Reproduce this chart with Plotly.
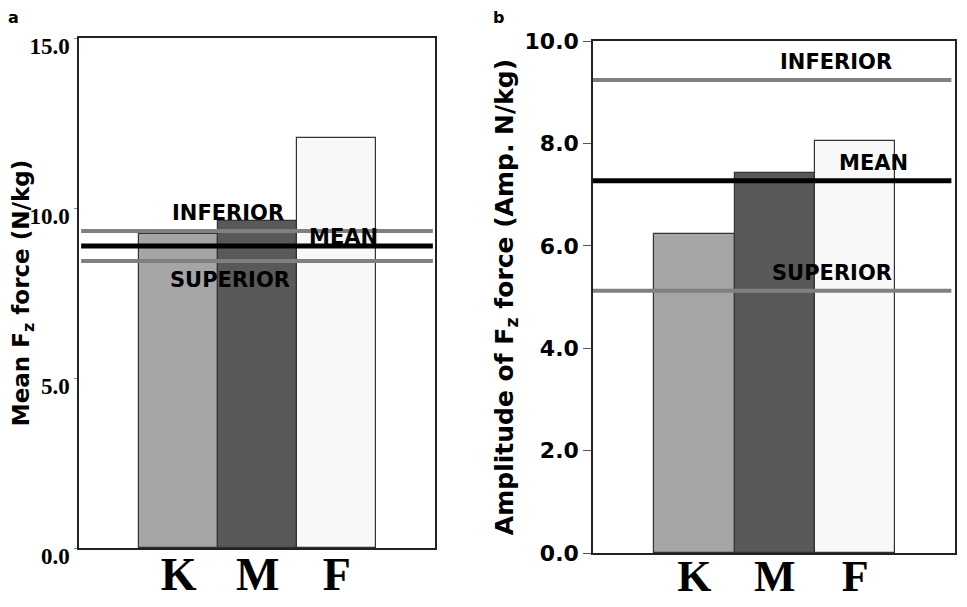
import plotly.graph_objects as go

# Page body has an 8px default margin; the figure is sized so that it fits the 967x607 window exactly.
SCREEN_W, SCREEN_H, OFF = 967, 607, 8
W, H = SCREEN_W - 2 * OFF, SCREEN_H - 2 * OFF

categories = ["K", "M", "F"]
bar_colors = ["#a5a5a5", "#595959", "#f8f8f8"]

# Panel a: mean Fz force (N/kg)
mean_force = [9.24, 9.62, 12.06]
mean_ref = {"INFERIOR": 9.32, "MEAN": 8.88, "SUPERIOR": 8.44}
a_ticks = [0.0, 5.0, 10.0, 15.0]

# Panel b: amplitude of Fz force (Amp. N/kg)
amp_force = [6.23, 7.42, 8.05]
amp_ref = {"INFERIOR": 9.24, "MEAN": 7.27, "SUPERIOR": 5.12}
b_ticks = [0.0, 2.0, 4.0, 6.0, 8.0, 10.0]

SANS = "DejaVu Sans"
SERIF = "Liberation Serif"

def px_x(a, b):
    return [(a - OFF) / W, (b - OFF) / W]

def px_y(top, bottom):
    return [1 - (bottom - OFF) / H, 1 - (top - OFF) / H]

def sx(x):
    return (x - OFF) / W

def sy(y):
    return 1 - (y - OFF) / H

fig = go.Figure()
xpos = [0, 1, 2]

fig.add_trace(go.Bar(x=xpos, y=mean_force, width=1.0, marker=dict(color=bar_colors, line=dict(color="#333333", width=1.2)),
                     xaxis="x", yaxis="y", showlegend=False, hoverinfo="skip"))
fig.add_trace(go.Bar(x=xpos, y=amp_force, width=1.0, marker=dict(color=bar_colors, line=dict(color="#333333", width=1.2)),
                     xaxis="x2", yaxis="y2", showlegend=False, hoverinfo="skip"))

line_style = {"INFERIOR": ("#808080", 4), "MEAN": ("#000000", 5), "SUPERIOR": ("#808080", 4)}

shapes = []
for name, val in mean_ref.items():
    c, w = line_style[name]
    shapes.append(dict(type="line", xref="x domain", yref="y", x0=0.006, x1=0.994, y0=val, y1=val,
                       line=dict(color=c, width=w)))
for name, val in amp_ref.items():
    c, w = line_style[name]
    shapes.append(dict(type="line", xref="x2 domain", yref="y2", x0=0.0, x1=0.99, y0=val, y1=val,
                       line=dict(color=c, width=w)))

lab_font = dict(family=SANS, size=21, color="black")
annotations = [
    dict(text="<b>INFERIOR</b>", xref="x domain", yref="y", x=0.256, y=9.85, showarrow=False, font=lab_font),
    dict(text="<b>MEAN</b>", xref="x domain", yref="y", x=0.846, y=9.15, showarrow=False, font=lab_font),
    dict(text="<b>SUPERIOR</b>", xref="x domain", yref="y", x=0.25, y=7.88, showarrow=False, font=lab_font),
    dict(text="<b>INFERIOR</b>", xref="x2 domain", yref="y2", x=0.831, y=9.59, showarrow=False, font=lab_font),
    dict(text="<b>MEAN</b>", xref="x2 domain", yref="y2", x=0.876, y=7.62, showarrow=False, font=lab_font),
    dict(text="<b>SUPERIOR</b>", xref="x2 domain", yref="y2", x=0.831, y=5.47, showarrow=False, font=lab_font),
    dict(text="<b>a</b>", xref="paper", yref="paper", x=sx(13), y=sy(17), xanchor="center", yanchor="middle",
         showarrow=False, font=dict(family=SANS, size=16, color="black")),
    dict(text="<b>b</b>", xref="paper", yref="paper", x=sx(498), y=sy(17), xanchor="center", yanchor="middle",
         showarrow=False, font=dict(family=SANS, size=16, color="black")),
]

def xaxis_cfg(domain, anchor, standoff, size):
    return dict(
        domain=domain, anchor=anchor,
        range=[-1.26, 3.24], tickvals=xpos, ticktext=[f"<b>{c}</b>" for c in categories],
        tickfont=dict(family=SERIF, size=size, color="black"), ticks="", showgrid=False, zeroline=False,
        showline=True, linecolor="#222222", linewidth=1.5, mirror=True, fixedrange=True, automargin=False,
        ticklabelstandoff=standoff,
    )

fig.update_layout(
    width=W, height=H, margin=dict(l=0, r=0, t=0, b=0, autoexpand=False),
    paper_bgcolor="white", plot_bgcolor="white", bargap=0,
    xaxis=xaxis_cfg(px_x(79, 435), "y", -15, 46),
    yaxis=dict(domain=px_y(38, 548), anchor="x", range=[0, 15], tickvals=a_ticks,
               ticktext=[f"<b>{v:.1f}</b>" for v in a_ticks], automargin=False,
               tickfont=dict(family=SERIF, size=23, color="black"), ticks="outside", ticklen=3,
               tickcolor="#888888", showgrid=False, zeroline=False, showline=True, linecolor="#222222",
               linewidth=1.5, mirror=True, ticklabelshift=8,
               title=dict(text="<b>Mean F<sub>z</sub> force (N/kg)</b>", font=dict(family=SANS, size=23, color="black"),
                          standoff=8)),
    xaxis2=xaxis_cfg(px_x(593, 955), "y2", -17, 44),
    yaxis2=dict(domain=px_y(41, 553), anchor="x2", range=[0, 10], tickvals=b_ticks,
                ticktext=[f"<b>{v:.1f}</b>" for v in b_ticks], automargin=False,
                tickfont=dict(family=SANS, size=22, color="black"), ticks="outside", ticklen=8,
                tickcolor="#555555", showgrid=False, zeroline=False, showline=True, linecolor="#222222",
                linewidth=1.5, mirror=True,
                title=dict(text="<b>Amplitude of F<sub>z</sub> force (Amp. N/kg)</b>",
                           font=dict(family=SANS, size=25, color="black"), standoff=4)),
    shapes=shapes, annotations=annotations,
)

fig.write_html("out.html")
